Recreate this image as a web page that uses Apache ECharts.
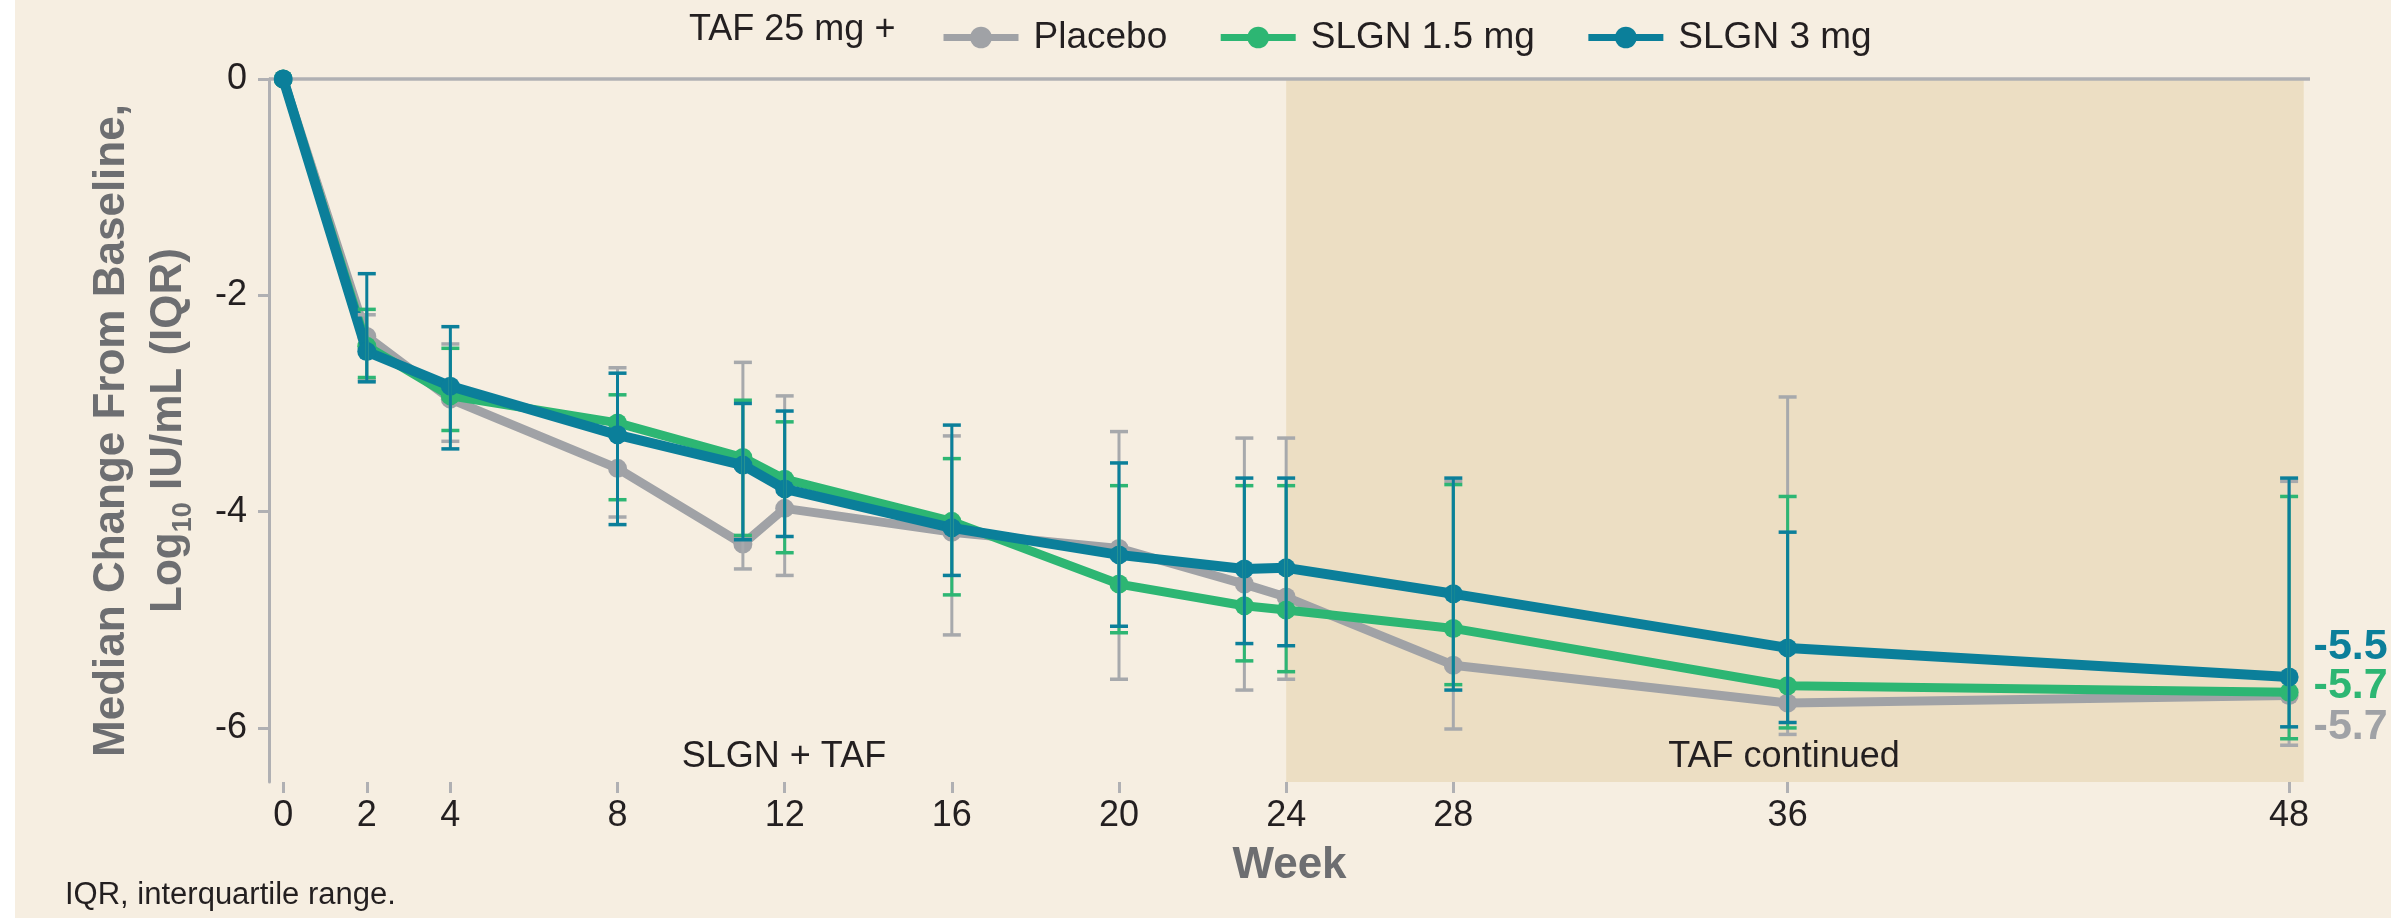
<!DOCTYPE html>
<html>
<head>
<meta charset="utf-8">
<script src="https://cdn.jsdelivr.net/npm/echarts@6/dist/echarts.min.js"></script>
<style>
  html, body { margin: 0; padding: 0; background: #ffffff; }
  #chart { position: absolute; left: 15px; top: 0; width: 2376px; height: 918px; background: #f6eee1; }
</style>
</head>
<body>
<div id="chart"></div>
<script>
// ---- Data ----
const weeks = [0, 2, 4, 8, 11, 12, 16, 20, 23, 24, 28, 36, 48];
const placeboMedian = [0, -2.38, -2.96, -3.60, -4.30, -3.97, -4.19, -4.34, -4.67, -4.79, -5.42, -5.77, -5.70];
const slgn15Median  = [0, -2.47, -2.93, -3.18, -3.50, -3.70, -4.09, -4.67, -4.87, -4.91, -5.08, -5.61, -5.67];
const slgn3Median   = [0, -2.52, -2.84, -3.29, -3.57, -3.79, -4.15, -4.40, -4.53, -4.52, -4.76, -5.26, -5.53];

const iqrWeeks = [2, 4, 8, 11, 12, 16, 20, 23, 24, 28, 36, 48];
const placeboQ1 = [-2.18, -2.45, -2.67, -2.62, -2.93, -3.30, -3.26, -3.32, -3.32, -3.72, -2.94, -3.72];
const placeboQ3 = [-2.78, -3.35, -4.05, -4.53, -4.59, -5.14, -5.55, -5.65, -5.55, -6.01, -6.06, -6.16];
const slgn15Q1  = [-2.13, -2.49, -2.92, -2.97, -3.17, -3.51, -3.76, -3.76, -3.76, -3.75, -3.86, -3.86];
const slgn15Q3  = [-2.76, -3.25, -3.89, -4.22, -4.38, -4.77, -5.12, -5.38, -5.48, -5.60, -6.00, -6.10];
const slgn3Q1   = [-1.80, -2.29, -2.72, -3.00, -3.07, -3.20, -3.55, -3.69, -3.69, -3.69, -4.19, -3.69];
const slgn3Q3   = [-2.80, -3.42, -4.12, -4.26, -4.23, -4.59, -5.06, -5.22, -5.24, -5.65, -5.95, -5.99];

const xTickValues = [0, 2, 4, 8, 12, 16, 20, 24, 28, 36, 48];
const yTickValues = [0, -2, -4, -6];
const seriesNames = ['Placebo', 'SLGN 1.5 mg', 'SLGN 3 mg'];
const endLabels = ['-5.7', '-5.7', '-5.5'];
const phaseStart = 24;
const phaseEnd = 48.35;

// ---- Styles ----
const FONT = '"Liberation Sans", Arial, Helvetica, sans-serif';
const colors = ['#a0a2a6', '#2db673', '#0b7f9a'];
const lineWidths = [9, 9, 10];
const endLabelOffsets = [[0, 32], [0, -6], [0, -30]];
const txt = '#231f20';
const axisGray = '#b0b0b3';

function lineData(medians, idx) {
  return weeks.map((w, i) => {
    const item = { value: [w, medians[i]] };
    if (i === weeks.length - 1) {
      item.label = {
        show: true, position: 'right', distance: 15, offset: endLabelOffsets[idx],
        formatter: endLabels[idx], color: colors[idx],
        fontFamily: FONT, fontWeight: 'bold', fontSize: 43
      };
    }
    return item;
  });
}
function iqrData(q1, q3) {
  return iqrWeeks.map((w, i) => [w, q3[i], q1[i]]);
}
function iqrSeries(name, q1, q3, color, z) {
  return {
    type: 'custom', name: name + ' IQR', z: z, silent: true,
    data: iqrData(q1, q3),
    encode: { x: 0, y: [1, 2] },
    renderItem: function (params, api) {
      const x = api.value(0);
      const top = api.coord([x, api.value(2)]);
      const bot = api.coord([x, api.value(1)]);
      const w = 9;
      const st = { stroke: color, lineWidth: 3 };
      const cap = { stroke: color, lineWidth: 3.5 };
      return {
        type: 'group',
        children: [
          { type: 'line', shape: { x1: top[0], y1: top[1], x2: bot[0], y2: bot[1] }, style: st },
          { type: 'line', shape: { x1: top[0] - w, y1: top[1], x2: top[0] + w, y2: top[1] }, style: cap },
          { type: 'line', shape: { x1: bot[0] - w, y1: bot[1], x2: bot[0] + w, y2: bot[1] }, style: cap }
        ]
      };
    }
  };
}
function lineSeries(idx, medians, z) {
  return {
    type: 'line', name: seriesNames[idx], z: z,
    data: lineData(medians, idx),
    symbol: 'circle', symbolSize: 19, showSymbol: true,
    lineStyle: { color: colors[idx], width: lineWidths[idx] },
    itemStyle: { color: colors[idx] },
    emphasis: { disabled: true },
    animation: false
  };
}

const chart = echarts.init(document.getElementById('chart'), null, { renderer: 'canvas' });
chart.setOption({
  backgroundColor: '#f6eee1',
  animation: false,
  textStyle: { fontFamily: FONT },
  grid: { left: 254, right: 81, top: 79, bottom: 136, containLabel: false },
  legend: {
    data: seriesNames,
    left: 920, top: 14,
    itemWidth: 75, itemHeight: 27, itemGap: 50,
    lineStyle: { width: 7 },
    textStyle: { fontFamily: FONT, fontSize: 37, color: txt, padding: [0, 0, 0, 10] },
    selectedMode: false
  },
  xAxis: {
    type: 'value', min: -0.34, max: 48.5,
    axisLine: { show: false, onZero: false },
    axisTick: { show: true, customValues: xTickValues, length: 11, lineStyle: { color: axisGray, width: 3 } },
    axisLabel: { customValues: xTickValues, fontSize: 36, color: txt, margin: 16, fontFamily: FONT },
    splitLine: { show: false },
    name: 'Week', nameLocation: 'middle', nameGap: 62,
    nameTextStyle: { fontSize: 44, fontWeight: 'bold', color: '#6d6e71', fontFamily: FONT }
  },
  yAxis: {
    type: 'value', min: -6.5, max: 0,
    axisLine: { show: true, onZero: false, lineStyle: { color: axisGray, width: 3 } },
    axisTick: { show: true, customValues: yTickValues, length: 11, lineStyle: { color: axisGray, width: 3 } },
    axisLabel: { customValues: yTickValues, fontSize: 36, color: txt, margin: 22, fontFamily: FONT },
    splitLine: { show: false },
    name: '{t|Median Change From Baseline,}\n{t|Log}{s|10}{t| IU/mL (IQR)}',
    nameLocation: 'middle', nameGap: 72, nameRotate: 90,
    nameTextStyle: {
      color: '#6d6e71', fontFamily: FONT, fontWeight: 'bold', fontSize: 44, lineHeight: 57,
      rich: {
        t: { fontSize: 44, fontWeight: 'bold', color: '#6d6e71', fontFamily: FONT, lineHeight: 57 },
        s: { fontSize: 27, fontWeight: 'bold', color: '#6d6e71', fontFamily: FONT, lineHeight: 36, verticalAlign: 'bottom' }
      }
    }
  },
  graphic: [
    { type: 'text', left: 674, top: 12, style: { text: 'TAF 25 mg +', font: '36px ' + FONT, fill: txt } },
    { type: 'text', x: 769, y: 757, style: { text: 'SLGN + TAF', font: '36px ' + FONT, fill: txt, align: 'center', verticalAlign: 'middle' }, z: 10 },
    { type: 'text', x: 1769, y: 757, style: { text: 'TAF continued', font: '36px ' + FONT, fill: txt, align: 'center', verticalAlign: 'middle' }, z: 10 },
    { type: 'text', x: 50, y: 895, style: { text: 'IQR, interquartile range.', font: '31px ' + FONT, fill: txt, verticalAlign: 'middle' } }
  ],
  series: [
    {
      type: 'line', name: 'phase', data: [], z: 0, silent: true,
      markArea: {
        silent: true,
        itemStyle: { color: '#ecdec3' },
        data: [[{ xAxis: phaseStart, yAxis: 0 }, { xAxis: phaseEnd, yAxis: -6.5 }]]
      },
      markLine: {
        silent: true, symbol: 'none', label: { show: false },
        lineStyle: { color: axisGray, width: 3.5, type: 'solid' },
        data: [{ yAxis: 0 }]
      }
    },
    lineSeries(0, placeboMedian, 3),
    lineSeries(1, slgn15Median, 4),
    lineSeries(2, slgn3Median, 5),
    iqrSeries(seriesNames[0], placeboQ1, placeboQ3, '#a7a9ac', 6),
    iqrSeries(seriesNames[1], slgn15Q1, slgn15Q3, colors[1], 7),
    iqrSeries(seriesNames[2], slgn3Q1, slgn3Q3, colors[2], 8)
  ]
});
</script>
</body>
</html>
